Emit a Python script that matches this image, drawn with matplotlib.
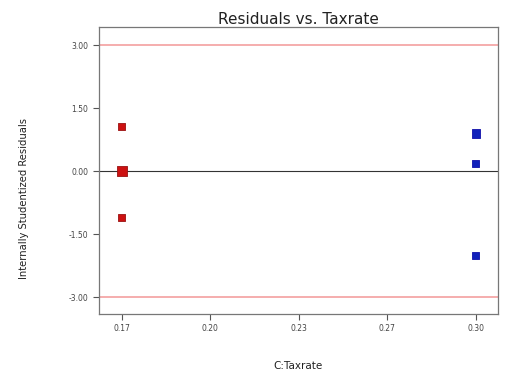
import numpy as np
import matplotlib.pyplot as plt

# residuals by taxrate level
taxrate_lo = [0.17, 0.17, 0.17]
resid_lo = [1.07, 0.0, -1.10]
size_lo = [26, 50, 26]
taxrate_hi = [0.30, 0.30, 0.30]
resid_hi = [0.90, 0.19, -2.00]
size_hi = [36, 26, 26]

xticks = [0.17, 0.2025, 0.235, 0.2675, 0.30]
xtick_labels = ['0.17', '0.20', '0.23', '0.27', '0.30']
yticks = [-3.0, -1.5, 0.0, 1.5, 3.0]
limit = 3.0

fig = plt.figure(figsize=(5.05, 3.76), dpi=100)
ax = fig.add_axes([0.196, 0.165, 0.79, 0.763])

ax.axhline(limit, color='#f4a0a0', lw=1.2, zorder=1)
ax.axhline(-limit, color='#f4a0a0', lw=1.2, zorder=1)
ax.axhline(0, color='#333333', lw=0.8, zorder=1)

ax.scatter(taxrate_lo, resid_lo, s=size_lo, marker='s', color='#cc1111',
           edgecolors='#991111', linewidths=0.6, zorder=3)
ax.scatter(taxrate_hi, resid_hi, s=size_hi, marker='s', color='#1122bb',
           edgecolors='#1111aa', linewidths=0.6, zorder=3)

ax.set_xlim(0.1616, 0.3081)
ax.set_ylim(-3.40, 3.43)
ax.set_xticks(xticks)
ax.set_xticklabels(xtick_labels)
ax.set_yticks(yticks)
ax.set_yticklabels([f'{v:.2f}' for v in yticks])
ax.tick_params(labelsize=5.5, colors='#555555', length=4, width=0.8,
               labelcolor='#444444')
for s in ax.spines.values():
    s.set_color('#777777')
    s.set_linewidth(0.9)

ax.set_title('Residuals vs. Taxrate', fontsize=11, pad=2, color='#222222')
ax.set_xlabel('C:Taxrate', fontsize=7.5, labelpad=20, color='#222222')
ax.set_ylabel('Internally Studentized Residuals', fontsize=7.2, color='#222222')
ax.yaxis.set_label_coords(-0.175, 0.404)

fig.savefig('out.png', dpi=100)
